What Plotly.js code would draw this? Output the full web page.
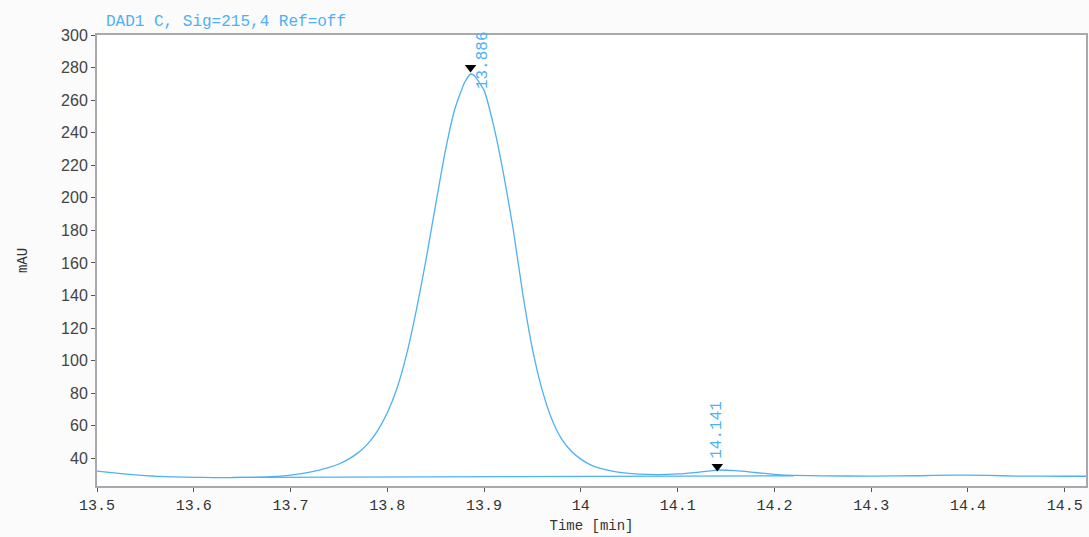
<!DOCTYPE html>
<html>
<head>
<meta charset="utf-8">
<script src="https://cdn.plot.ly/plotly-3.0.1.min.js"></script>
<style>
html,body{margin:0;padding:0;background:#fbfbfb;}
#chart{width:1089px;height:537px;}
</style>
</head>
<body>
<div id="chart"></div>
<script>
// Signal trace (Time [min], mAU)
const timeMin = [13.50,13.52,13.54,13.56,13.58,13.60,13.62,13.64,13.66,13.68,13.70,13.72,13.74,13.75,13.76,13.77,13.78,13.79,13.80,13.81,13.82,13.83,13.84,13.85,13.86,13.87,13.88,13.886,13.89,13.90,13.91,13.92,13.93,13.94,13.95,13.96,13.97,13.98,13.99,14.00,14.01,14.02,14.03,14.04,14.06,14.08,14.10,14.12,14.141,14.16,14.18,14.20,14.22,14.25,14.30,14.35,14.38,14.42,14.45,14.50,14.522];
const signalMAU = [32.1,30.9,29.8,29.0,28.6,28.3,28.2,28.2,28.3,28.7,29.7,31.5,34.5,36.5,39.5,43.5,49,57,68,83,104,131,162,196,229,255,271,276,275,266,244,215,181,141,107,82,64,52,44.5,39.5,36,33.8,32.4,31.4,30.3,30.0,30.4,31.4,32.8,32.4,31.3,30.2,29.5,29.2,29.1,29.3,29.7,29.5,29.1,29.0,29.0];

// Integration baseline
const baselineTime = [13.64, 14.22];
const baselineMAU = [28.3, 29.3];

// Peak markers and labels
const peakTimes = [13.886, 14.141];
const peakMarkerMAU = [280, 35];
const peakLabels = ["13.886", "14.141"];

// Axis ticks
const xTickVals = [13.5,13.6,13.7,13.8,13.9,14.0,14.1,14.2,14.3,14.4,14.5];
const xTickText = ["13.5","13.6","13.7","13.8","13.9","14","14.1","14.2","14.3","14.4","14.5"];

const blue = '#4fb0f4';
const axisGray = '#a8a8ae';

const traces = [
  {x: timeMin, y: signalMAU, type: 'scatter', mode: 'lines', line: {color: blue, width: 1.3, shape: 'spline', smoothing: 0.5}, hoverinfo: 'skip'},
  {x: baselineTime, y: baselineMAU, type: 'scatter', mode: 'lines', line: {color: blue, width: 1.3}, hoverinfo: 'skip'},
  {x: peakTimes, y: peakMarkerMAU, type: 'scatter', mode: 'markers', marker: {symbol: 'triangle-down', size: 10, color: '#000'}, hoverinfo: 'skip', cliponaxis: false}
];

const annShifts = [{xs: 12, ys: -24}, {xs: 0, ys: 6}];
const annotations = peakLabels.map((t, i) => ({
  x: peakTimes[i], y: peakMarkerMAU[i], xref: 'x', yref: 'y',
  text: t, showarrow: false, textangle: -90,
  xanchor: 'center', yanchor: 'bottom',
  xshift: annShifts[i].xs, yshift: annShifts[i].ys,
  font: {family: 'Liberation Mono, monospace', size: 16, color: blue}
}));

const layout = {
  width: 1089, height: 537,
  margin: {l: 97, r: 3, t: 35, b: 51},
  paper_bgcolor: '#fbfbfb',
  plot_bgcolor: '#ffffff',
  showlegend: false,
  title: {
    text: 'DAD1 C, Sig=215,4 Ref=off',
    font: {family: 'Liberation Mono, monospace', size: 16, color: blue},
    xref: 'container', x: 106 / 1089, xanchor: 'left',
    yref: 'container', y: 1 - 20 / 537, yanchor: 'middle'
  },
  xaxis: {
    range: [13.5, 14.522],
    tickvals: xTickVals, ticktext: xTickText,
    showgrid: false, zeroline: false,
    showline: true, linecolor: axisGray, linewidth: 2, mirror: true,
    ticks: 'outside', ticklen: 4, tickcolor: '#555', tickwidth: 1,
    tickfont: {family: 'Liberation Mono, monospace', size: 15, color: '#333'},
    title: {text: 'Time [min]', font: {family: 'Liberation Mono, monospace', size: 14, color: '#333'}, standoff: 6}
  },
  yaxis: {
    range: [23, 300],
    tick0: 0, dtick: 20,
    showgrid: false, zeroline: false,
    showline: true, linecolor: axisGray, linewidth: 2, mirror: true,
    ticks: 'outside', ticklen: 4, tickcolor: '#555', tickwidth: 1,
    tickfont: {family: 'Liberation Sans, Arial, sans-serif', size: 16, color: '#444'},
    title: {text: 'mAU', font: {family: 'Liberation Mono, monospace', size: 14, color: '#333'}, standoff: 30}
  },
  annotations: annotations
};

Plotly.newPlot('chart', traces, layout, {displayModeBar: false, staticPlot: true});
</script>
</body>
</html>
